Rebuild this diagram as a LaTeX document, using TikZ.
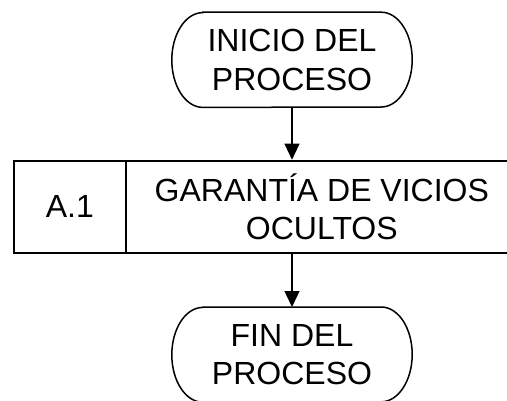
\documentclass[tikz,border=0pt]{standalone}
\usepackage{fontspec}
\setmainfont{Liberation Sans}
\usetikzlibrary{arrows.meta}
\newcommand\termoutline[1]{%
  \draw[termline] ([xshift=31pt]#1.north west) -- ([xshift=-31pt]#1.north east)
    arc[start angle=90,end angle=-90,x radius=31pt,y radius=47.4pt]
    -- ([xshift=31pt]#1.south west)
    arc[start angle=270,end angle=90,x radius=31pt,y radius=47.4pt] -- cycle;}
\begin{document}
\begin{tikzpicture}[x=1pt,y=-1pt,
  txt/.style={font=\fontsize{32}{38.5}\selectfont, align=center, inner sep=0pt},
  terminal/.style={txt, minimum width=240pt, minimum height=94.8pt},
  termline/.style={line width=1.5pt},
  cell/.style={txt, draw, line width=2pt, minimum height=92pt},
  arr/.style={line width=1.3pt, -{Triangle[width=15pt,length=16pt]}}]
\fill[white] (0,0) rectangle (507,400);
\useasboundingbox (0,0) rectangle (507,400);
\clip (0,0) rectangle (507,400);
\node[terminal] (t1) at (292,59.8) {INICIO DEL\\PROCESO};
\termoutline{t1}
\node[cell, minimum width=111.7pt] (id) at (69.85,206.7) {A.1};
\node[cell, minimum width=392.3pt] (desc) at (321.85,206.7) {GARANTÍA DE VICIOS\\OCULTOS};
\node[terminal] (t2) at (292,354.6) {FIN DEL\\PROCESO};
\termoutline{t2}
\draw[arr] (t1.south) -- (t1.south |- desc.north);
\draw[arr] (desc.south -| t2.north) -- (t2.north);
\end{tikzpicture}
\end{document}
